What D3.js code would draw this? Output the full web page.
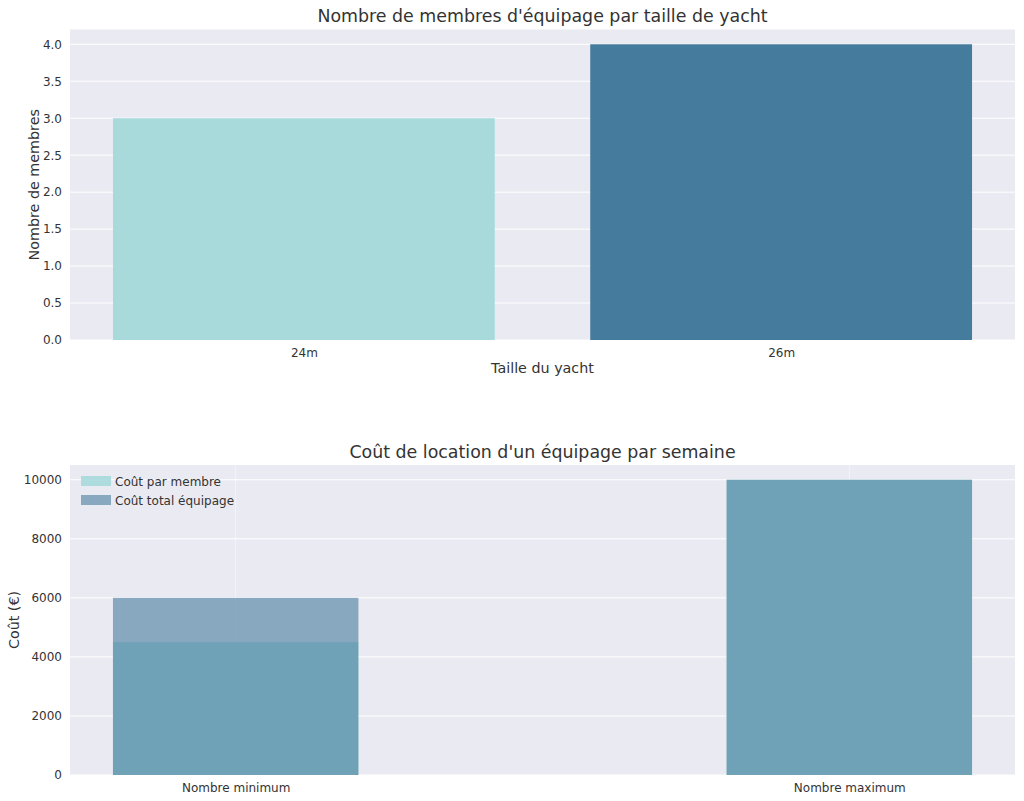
<!DOCTYPE html>
<html>
<head>
<meta charset="utf-8">
<script src="https://cdn.jsdelivr.net/npm/d3@7"></script>
<style>
  body { margin: 0; background: #fff; }
  svg { display: block; font-family: "DejaVu Sans", sans-serif; }
</style>
</head>
<body>
<svg id="chart" width="1024" height="801"></svg>
<script>
// ---- Data ----
const yachtSizes = ["24m", "26m"];
const crewCounts = [3, 4];
const crewTicks = [0, 0.5, 1, 1.5, 2, 2.5, 3, 3.5, 4];

const costCategories = ["Nombre minimum", "Nombre maximum"];
const costPerMember = [4500, 10000];
const costTotalCrew = [6000, 10000];
const costTicks = [0, 2000, 4000, 6000, 8000, 10000];

const seriesNames = ["Coût par membre", "Coût total équipage"];

// ---- Setup ----
const svg = d3.select("#chart");
const BG = "#eaeaf2";
const TEXT = "#333333";
const C_LIGHT = "#a8dadc";
const C_DARK = "#457b9d";
const TICK_FS = "12px";
const LABEL_FS = "14.3px";
const TITLE_FS = "17.4px";

// ---------- Top chart ----------
const boxA = { x0: 70, x1: 1015, y0: 29.5, y1: 340 };
const gTop = svg.append("g");
gTop.append("rect").attr("x", boxA.x0).attr("y", boxA.y0)
  .attr("width", boxA.x1 - boxA.x0).attr("height", boxA.y1 - boxA.y0).attr("fill", BG);

const xiTop = d3.scaleLinear().domain([-0.49, 1.49]).range([boxA.x0, boxA.x1]);
const yTop = d3.scaleLinear().domain([0, 4.2]).range([boxA.y1, boxA.y0]);

gTop.selectAll("line.hgrid").data(crewTicks).enter().append("line")
  .attr("x1", boxA.x0).attr("x2", boxA.x1)
  .attr("y1", d => yTop(d)).attr("y2", d => yTop(d))
  .attr("stroke", "#fff").attr("stroke-width", 1);

const topColors = [C_LIGHT, C_DARK];
gTop.selectAll("rect.bar").data(crewCounts).enter().append("rect")
  .attr("x", (d, i) => xiTop(i - 0.4))
  .attr("width", (d, i) => xiTop(i + 0.4) - xiTop(i - 0.4))
  .attr("y", d => yTop(d))
  .attr("height", d => yTop(0) - yTop(d))
  .attr("fill", (d, i) => topColors[i]);

const yAxisTop = d3.axisLeft(yTop).tickValues(crewTicks).tickFormat(d3.format(".1f")).tickSize(0).tickPadding(8);
const gyt = gTop.append("g").attr("transform", `translate(${boxA.x0},0)`).call(yAxisTop);
gyt.select(".domain").remove();
gyt.selectAll("text").attr("fill", TEXT).style("font-size", TICK_FS).style("font-family", "DejaVu Sans");

const xAxisTop = d3.axisBottom(d3.scalePoint().domain(yachtSizes).range([xiTop(0), xiTop(1)]))
  .tickSize(0).tickPadding(8);
const gxt = gTop.append("g").attr("transform", `translate(0,${boxA.y1})`).call(xAxisTop);
gxt.select(".domain").remove();
gxt.selectAll("text").attr("fill", TEXT).style("font-size", TICK_FS).style("font-family", "DejaVu Sans");

gTop.append("text").attr("x", (boxA.x0 + boxA.x1) / 2).attr("y", 22)
  .attr("text-anchor", "middle").attr("fill", TEXT).style("font-size", TITLE_FS)
  .text("Nombre de membres d'équipage par taille de yacht");
gTop.append("text").attr("x", (boxA.x0 + boxA.x1) / 2).attr("y", 373)
  .attr("text-anchor", "middle").attr("fill", TEXT).style("font-size", LABEL_FS)
  .text("Taille du yacht");
gTop.append("text").attr("transform", `translate(39,${(boxA.y0 + boxA.y1) / 2}) rotate(-90)`)
  .attr("text-anchor", "middle").attr("fill", TEXT).style("font-size", LABEL_FS)
  .text("Nombre de membres");

// ---------- Bottom chart ----------
const boxB = { x0: 70, x1: 1015, y0: 465, y1: 775 };
const gBot = svg.append("g");
gBot.append("rect").attr("x", boxB.x0).attr("y", boxB.y0)
  .attr("width", boxB.x1 - boxB.x0).attr("height", boxB.y1 - boxB.y0).attr("fill", BG);

const xiBot = d3.scaleLinear().domain([-0.27, 1.27]).range([boxB.x0, boxB.x1]);
const yBot = d3.scaleLinear().domain([0, 10500]).range([boxB.y1, boxB.y0]);

gBot.selectAll("line.hgrid").data(costTicks).enter().append("line")
  .attr("x1", boxB.x0).attr("x2", boxB.x1)
  .attr("y1", d => yBot(d)).attr("y2", d => yBot(d))
  .attr("stroke", "#fff").attr("stroke-width", 1);
gBot.selectAll("line.vgrid").data(costCategories).enter().append("line")
  .attr("x1", (d, i) => xiBot(i)).attr("x2", (d, i) => xiBot(i))
  .attr("y1", boxB.y0).attr("y2", boxB.y1)
  .attr("stroke", "#fff").attr("stroke-width", 1).attr("stroke-opacity", 0.45);

gBot.selectAll("rect.m").data(costPerMember).enter().append("rect")
  .attr("x", (d, i) => xiBot(i - 0.2))
  .attr("width", (d, i) => xiBot(i + 0.2) - xiBot(i - 0.2))
  .attr("y", d => yBot(d)).attr("height", d => yBot(0) - yBot(d))
  .attr("fill", C_LIGHT).attr("fill-opacity", 0.92);
gBot.selectAll("rect.t").data(costTotalCrew).enter().append("rect")
  .attr("x", (d, i) => xiBot(i - 0.2))
  .attr("width", (d, i) => xiBot(i + 0.2) - xiBot(i - 0.2))
  .attr("y", d => yBot(d)).attr("height", d => yBot(0) - yBot(d))
  .attr("fill", C_DARK).attr("fill-opacity", 0.6);

const yAxisBot = d3.axisLeft(yBot).tickValues(costTicks).tickFormat(d3.format("d")).tickSize(0).tickPadding(8);
const gyb = gBot.append("g").attr("transform", `translate(${boxB.x0},0)`).call(yAxisBot);
gyb.select(".domain").remove();
gyb.selectAll("text").attr("fill", TEXT).style("font-size", TICK_FS).style("font-family", "DejaVu Sans");

const xAxisBot = d3.axisBottom(d3.scalePoint().domain(costCategories).range([xiBot(0), xiBot(1)]))
  .tickSize(0).tickPadding(8);
const gxb = gBot.append("g").attr("transform", `translate(0,${boxB.y1})`).call(xAxisBot);
gxb.select(".domain").remove();
gxb.selectAll("text").attr("fill", TEXT).style("font-size", TICK_FS).style("font-family", "DejaVu Sans");

gBot.append("text").attr("x", (boxB.x0 + boxB.x1) / 2).attr("y", 458)
  .attr("text-anchor", "middle").attr("fill", TEXT).style("font-size", TITLE_FS)
  .text("Coût de location d'un équipage par semaine");
gBot.append("text").attr("transform", `translate(19,${(boxB.y0 + boxB.y1) / 2}) rotate(-90)`)
  .attr("text-anchor", "middle").attr("fill", TEXT).style("font-size", LABEL_FS)
  .text("Coût (€)");

// Legend
const legend = gBot.append("g").attr("transform", `translate(81,476)`);
const legendColors = [[C_LIGHT, 0.92], [C_DARK, 0.6]];
seriesNames.forEach((name, i) => {
  const row = legend.append("g").attr("transform", `translate(0,${i * 19})`);
  row.append("rect").attr("x", 0).attr("y", 0).attr("width", 30).attr("height", 10)
    .attr("fill", legendColors[i][0]).attr("fill-opacity", legendColors[i][1]);
  row.append("text").attr("x", 34).attr("y", 9.5).attr("fill", TEXT)
    .style("font-size", TICK_FS).text(name);
});
</script>
</body>
</html>
